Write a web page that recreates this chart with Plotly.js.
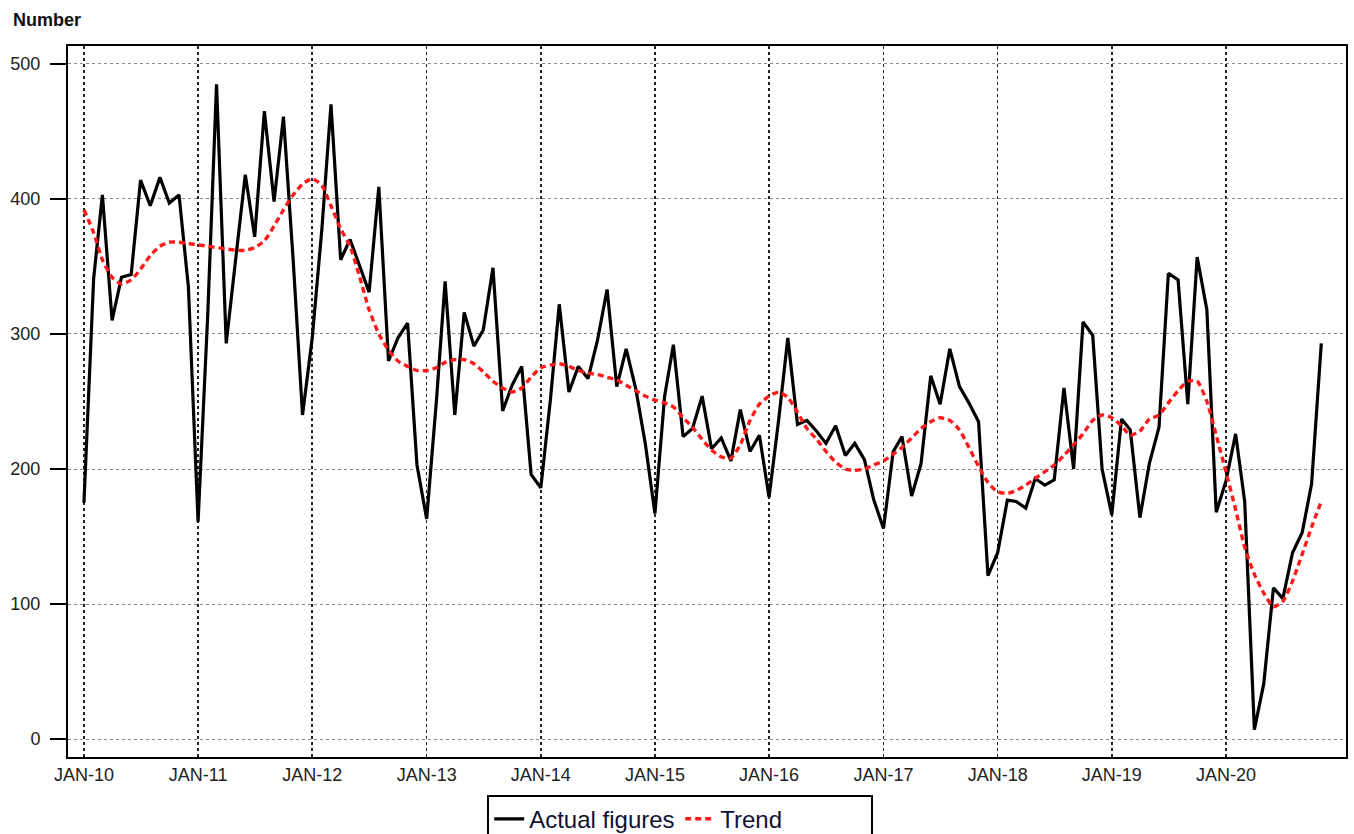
<!DOCTYPE html>
<html>
<head>
<meta charset="utf-8">
<script src="https://cdn.plot.ly/plotly-3.0.1.min.js"></script>
<style>
  html, body { margin: 0; padding: 0; background: #ffffff; }
  #chart { width: 1354px; height: 834px; }
</style>
</head>
<body>
<div id="chart"></div>
<script>
// Monthly series, Jan 2010 .. Nov 2020
const startYear = 2010;
const actualFigures = [
  175, 341, 403, 310, 342, 344, 414, 395, 416, 397, 403, 335,
  161, 315, 485, 293, 355, 418, 372, 465, 398, 461, 355, 240,
  297, 378, 470, 355, 370, 350, 331, 409, 280, 297, 308, 203,
  163, 250, 339, 240, 316, 291, 303, 349, 243, 262, 276, 196,
  186, 252, 322, 257, 276, 267, 295, 333, 261, 289, 259, 219,
  167, 254, 292, 224, 230, 254, 215, 223, 206, 244, 213, 225,
  179, 237, 297, 233, 236, 228, 219, 232, 210, 219, 207, 177,
  156, 213, 224, 180, 204, 269, 248, 289, 261, 249, 235, 121,
  138, 177, 176, 171, 193, 188, 192, 260, 200, 309, 299, 200,
  166, 237, 229, 164, 204, 231, 345, 340, 248, 357, 318, 168,
  191, 226, 176, 7, 41, 112, 104, 138, 153, 189, 293
];
const trendValues = [
  392, 375, 355, 342, 337, 340, 348, 358, 365, 368, 368, 367,
  366, 365, 364, 363, 362, 362, 364, 369, 380, 392, 403, 411,
  415, 410, 395, 378, 365, 342, 318, 300, 288, 280, 276, 273,
  273, 275, 279, 281, 281, 278, 272, 265, 260, 257, 260, 268,
  275, 277, 278, 276, 273, 271, 270, 268, 266, 262, 258, 254,
  251, 249, 246, 238, 231, 222, 214, 209, 208, 218, 236, 248,
  254, 257, 253, 242, 230, 222, 213, 205, 200, 199, 200, 203,
  206, 211, 216, 223, 230, 235, 238, 236, 229, 216, 202, 190,
  183, 182, 184, 188, 193, 198, 203, 210, 218, 226, 236, 240,
  238, 232, 225, 228, 237, 240, 249, 258, 265, 265, 250, 225,
  198, 170, 142, 122, 108, 98, 102, 117, 137, 157, 176
];
const tickLabels = ["JAN-10","JAN-11","JAN-12","JAN-13","JAN-14","JAN-15","JAN-16","JAN-17","JAN-18","JAN-19","JAN-20"];
const yTicks = [0, 100, 200, 300, 400, 500];

function monthDate(i) {
  const y = startYear + Math.floor(i / 12);
  const m = (i % 12) + 1;
  return y + "-" + (m < 10 ? "0" + m : m) + "-01";
}
const months = actualFigures.map((_, i) => monthDate(i));
const tickVals = tickLabels.map((_, k) => (startYear + k) + "-01-01");

const FONT = "Liberation Sans, Arial, sans-serif";

const traces = [
  {
    x: months, y: actualFigures, type: "scatter", mode: "lines",
    name: "Actual figures",
    line: { color: "#000000", width: 3.2 }
  },
  {
    x: months, y: trendValues, type: "scatter", mode: "lines",
    name: "Trend",
    line: { color: "#ff1a1a", width: 3.4, dash: "6px,4px", shape: "spline", smoothing: 0.6 }
  }
];

const layout = {
  width: 1354, height: 834,
  paper_bgcolor: "#ffffff", plot_bgcolor: "#ffffff",
  margin: { l: 68, r: 8, t: 46, b: 77, autoexpand: false },
  font: { family: FONT, color: "#111111" },
  showlegend: true,
  legend: {
    orientation: "h",
    x: 0.328, xanchor: "left",
    y: -0.053, yanchor: "top",
    bordercolor: "#000000", borderwidth: 2,
    bgcolor: "#ffffff",
    font: { family: FONT, size: 24, color: "#111133" },
    itemwidth: 30,
    entrywidth: 146,
    tracegroupgap: 0
  },
  xaxis: {
    type: "date",
    range: ["2009-11-11", "2021-01-19"],
    tickmode: "array", tickvals: tickVals, ticktext: tickLabels,
    ticks: "", showgrid: true,
    gridcolor: "#222222", gridwidth: 1.5, griddash: "dot",
    showline: true, linecolor: "#000000", linewidth: 2, mirror: true,
    zeroline: false,
    tickfont: { family: FONT, size: 18, color: "#222222" },
    fixedrange: true
  },
  yaxis: {
    range: [-13.3, 513.3],
    tickmode: "array", tickvals: yTicks,
    ticks: "outside", ticklen: 16, tickwidth: 2, tickcolor: "#000000",
    ticklabelstandoff: 6,
    showgrid: true, gridcolor: "#888888", gridwidth: 1, griddash: "dot",
    showline: true, linecolor: "#000000", linewidth: 2, mirror: true,
    zeroline: false,
    tickfont: { family: FONT, size: 18, color: "#222222" },
    fixedrange: true
  },
  annotations: [
    {
      text: "<b>Number</b>", xref: "paper", yref: "paper",
      x: -0.0445, y: 1.0, xanchor: "left", yanchor: "bottom",
      yshift: 14, showarrow: false,
      font: { family: FONT, size: 18, color: "#111111" }
    }
  ]
};

Plotly.newPlot("chart", traces, layout, { displayModeBar: false, staticPlot: true });
</script>
</body>
</html>
